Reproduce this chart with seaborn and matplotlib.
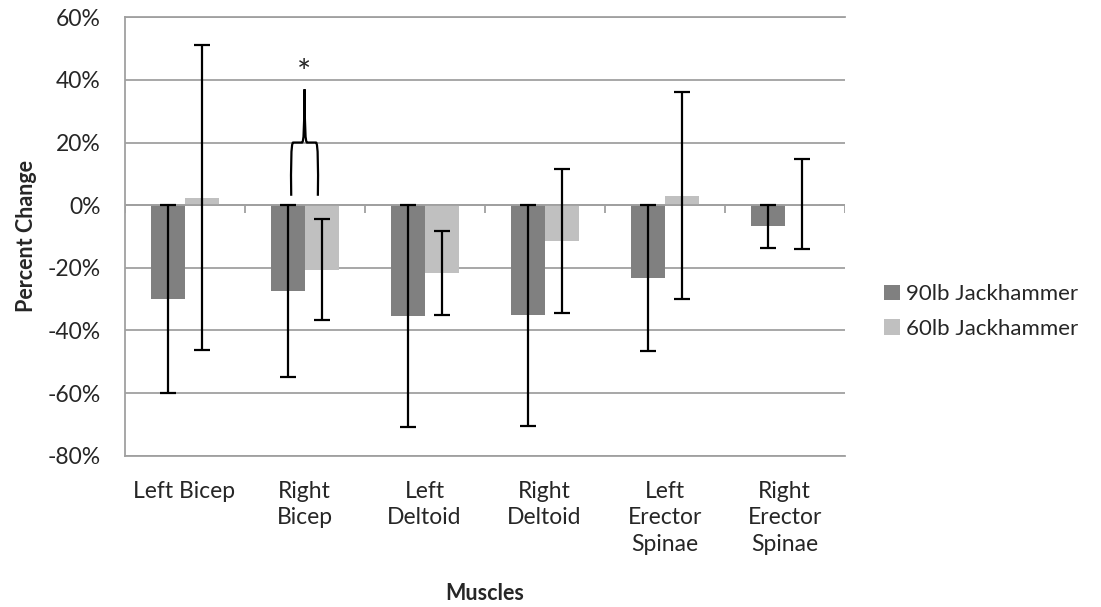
import numpy as np
import pandas as pd
import matplotlib
matplotlib.use("Agg")
import matplotlib.pyplot as plt
import seaborn as sns
from matplotlib.path import Path
from matplotlib.patches import PathPatch
from matplotlib.ticker import PercentFormatter, MultipleLocator

# --- data (percent change) ---
muscles = ["Left Bicep", "Right Bicep", "Left Deltoid", "Right Deltoid",
           "Left Erector Spinae", "Right Erector Spinae"]
tick_labels = ["Left Bicep", "Right\nBicep", "Left\nDeltoid", "Right\nDeltoid",
               "Left\nErector\nSpinae", "Right\nErector\nSpinae"]
series = ["90lb Jackhammer", "60lb Jackhammer"]
change_90 = [-30.0, -27.4, -35.4, -35.2, -23.2, -6.8]
err_90 = [30.0, 27.4, 35.4, 35.3, 23.3, 6.9]
change_60 = [2.3, -20.6, -21.6, -11.4, 3.0, 0.4]
err_60 = [48.7, 16.1, 13.5, 22.9, 33.1, 14.3]
y_ticks = [-80, -60, -40, -20, 0, 20, 40, 60]

# significance brace over Right Bicep (levels in percent)
sig_muscle = "Right Bicep"
brace_base, brace_level, brace_peak, star_level = 3.0, 20.0, 37.0, 42.0

df = pd.DataFrame({
    "muscle": muscles * 2,
    "change": change_90 + change_60,
    "series": [series[0]] * len(muscles) + [series[1]] * len(muscles),
})

colors = ["#808080", "#c0c0c0"]
grid_c = "#a0a0a0"

sns.set_theme(style="white")
plt.rcParams["font.family"] = ["Lato", "DejaVu Sans"]
plt.rcParams["axes.unicode_minus"] = False

fig = plt.figure(figsize=(11.01, 6.07), dpi=100)
ax = fig.add_axes([0.1131, 0.2493, 0.654, 0.7222])

sns.barplot(data=df, x="muscle", y="change", hue="series", order=muscles,
            hue_order=series, palette=colors, saturation=1, width=0.567,
            errorbar=None, linewidth=0, ax=ax, zorder=2)

# error bars centred on each bar
for cont, errs in zip(ax.containers, [err_90, err_60]):
    xs = [p.get_x() + p.get_width() / 2 for p in cont]
    ys = [p.get_height() for p in cont]
    ax.errorbar(xs, ys, yerr=errs, fmt="none", ecolor="black",
                elinewidth=1.6, capsize=6, capthick=1.6, zorder=4)

ax.set_ylim(y_ticks[0], y_ticks[-1])
ax.set_xlim(-0.5, len(muscles) - 0.5)
ax.yaxis.set_major_locator(MultipleLocator(20))
ax.yaxis.set_major_formatter(PercentFormatter(xmax=100, decimals=0))
ax.yaxis.grid(True, color=grid_c, linewidth=1.3)
ax.set_axisbelow(True)

# category axis sits on the zero line
ax.axhline(0, color=grid_c, linewidth=1.3, zorder=3)
bounds = np.arange(len(muscles) + 1) - 0.5
ax.vlines(bounds, -2.6, 0, color=grid_c, linewidth=1.3, zorder=3)

ax.spines["right"].set_visible(False)
for s in ["top", "bottom", "left"]:
    ax.spines[s].set_color(grid_c)
    ax.spines[s].set_linewidth(1.3)

ax.set_xticks(range(len(muscles)))
ax.set_xticklabels(tick_labels, fontsize=16.5, linespacing=1.33, va="top")
ax.tick_params(axis="x", length=0, pad=18)
ax.tick_params(axis="y", length=6, width=1.3, color=grid_c, labelsize=16.5,
               pad=11, direction="out")

ax.set_xlabel("Muscles", fontsize=15.5, fontweight="bold", labelpad=20)
ax.set_ylabel("Percent Change", fontsize=15.5, fontweight="bold", labelpad=8)

# significance brace and star
cx = muscles.index(sig_muscle)
w, h = 0.111, 0.095
verts = [
    (cx - w, brace_base),
    (cx - w - 0.003, brace_level - 8), (cx - w - 0.002, brace_level), (cx - h, brace_level),
    (cx - 0.022, brace_level),
    (cx - 0.006, brace_level), (cx - 0.003, brace_level + 4), (cx, brace_peak),
    (cx + 0.003, brace_level + 4), (cx + 0.006, brace_level), (cx + 0.022, brace_level),
    (cx + h, brace_level),
    (cx + w + 0.002, brace_level), (cx + w + 0.003, brace_level - 8), (cx + w, brace_base),
]
codes = [Path.MOVETO,
         Path.CURVE4, Path.CURVE4, Path.CURVE4,
         Path.LINETO,
         Path.CURVE4, Path.CURVE4, Path.CURVE4,
         Path.CURVE4, Path.CURVE4, Path.CURVE4,
         Path.LINETO,
         Path.CURVE4, Path.CURVE4, Path.CURVE4]
ax.add_patch(PathPatch(Path(verts, codes), facecolor="none", edgecolor="black",
                       linewidth=1.6, zorder=5))
ax.text(cx, star_level, "*", ha="center", va="center", fontsize=24)

ax.legend(loc="center left", bbox_to_anchor=(0.803, 0.487),
          bbox_transform=fig.transFigure, frameon=False, fontsize=16,
          handlelength=0.7, handleheight=0.7, handletextpad=0.3,
          labelspacing=0.65, borderpad=0, borderaxespad=0)

fig.savefig("out.png", dpi=100, facecolor="white")
